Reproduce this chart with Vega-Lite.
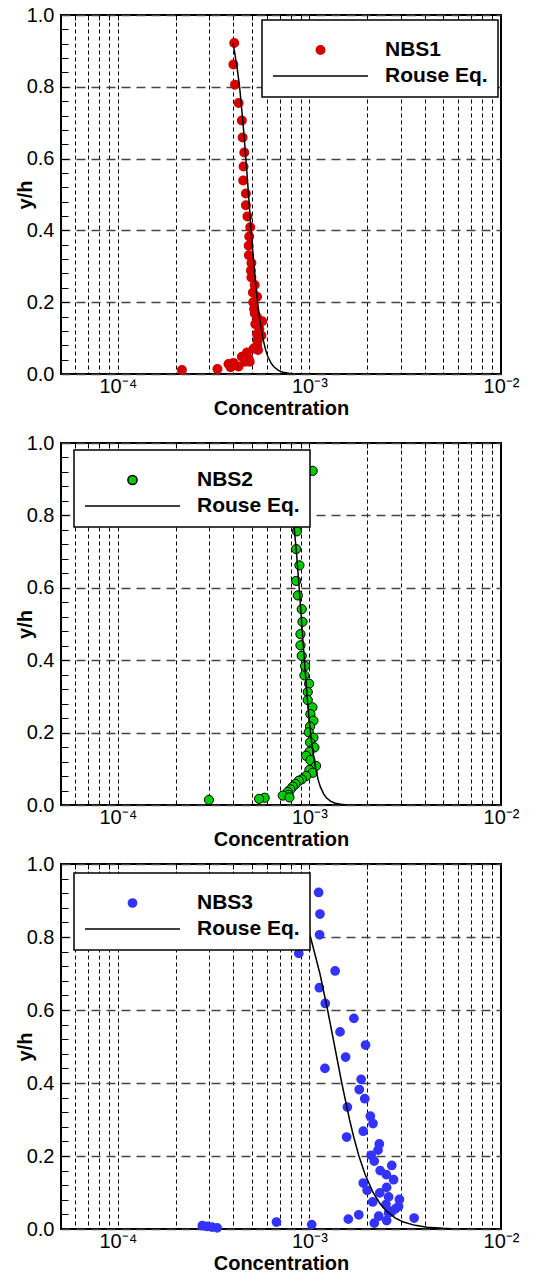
{
  "$schema": "https://vega.github.io/schema/vega-lite/v6.json",
  "padding": {"top": 4, "left": 14, "right": 4, "bottom": 0},
  "background": "white",
  "config": {
    "font": "Liberation Sans",
    "view": {"stroke": "black", "strokeWidth": 2},
    "axis": {"labelFont": "Liberation Sans", "labelFontSize": 20, "labelColor": "black", "titleFont": "Liberation Sans", "titleFontSize": 20, "titleFontWeight": "bold", "titleColor": "black", "domain": false},
    "legend": {"labelFont": "Liberation Sans", "labelFontSize": 21, "labelFontWeight": "bold", "labelColor": "black", "fillColor": "white", "strokeColor": "black", "strokeWidth": 1.5, "padding": 10, "rowPadding": 4, "titleFontSize": 9, "titlePadding": 0, "orient": "none", "direction": "vertical", "columns": 1, "clipHeight": 22, "labelOffset": 16, "symbolStrokeWidth": 1.5}
  },
  "datasets": {
    "nbs1": [
      {"c": 4.05e-4, "yh": 0.922, "series": "NBS1"}, {"c": 4.01e-4, "yh": 0.862, "series": "NBS1"}, {"c": 4.09e-4, "yh": 0.806, "series": "NBS1"},
      {"c": 4.27e-4, "yh": 0.755, "series": "NBS1"}, {"c": 4.44e-4, "yh": 0.706, "series": "NBS1"}, {"c": 4.48e-4, "yh": 0.659, "series": "NBS1"},
      {"c": 4.57e-4, "yh": 0.617, "series": "NBS1"}, {"c": 4.53e-4, "yh": 0.578, "series": "NBS1"}, {"c": 4.51e-4, "yh": 0.539, "series": "NBS1"},
      {"c": 4.66e-4, "yh": 0.503, "series": "NBS1"}, {"c": 4.66e-4, "yh": 0.470, "series": "NBS1"}, {"c": 4.75e-4, "yh": 0.439, "series": "NBS1"},
      {"c": 4.91e-4, "yh": 0.409, "series": "NBS1"}, {"c": 4.85e-4, "yh": 0.383, "series": "NBS1"}, {"c": 4.82e-4, "yh": 0.357, "series": "NBS1"},
      {"c": 4.83e-4, "yh": 0.331, "series": "NBS1"}, {"c": 4.98e-4, "yh": 0.309, "series": "NBS1"}, {"c": 4.95e-4, "yh": 0.288, "series": "NBS1"},
      {"c": 4.98e-4, "yh": 0.269, "series": "NBS1"}, {"c": 5.18e-4, "yh": 0.248, "series": "NBS1"}, {"c": 5.07e-4, "yh": 0.227, "series": "NBS1"},
      {"c": 5.33e-4, "yh": 0.215, "series": "NBS1"}, {"c": 5.09e-4, "yh": 0.200, "series": "NBS1"}, {"c": 5.14e-4, "yh": 0.181, "series": "NBS1"},
      {"c": 5.18e-4, "yh": 0.169, "series": "NBS1"}, {"c": 5.33e-4, "yh": 0.158, "series": "NBS1"}, {"c": 5.67e-4, "yh": 0.147, "series": "NBS1"},
      {"c": 5.22e-4, "yh": 0.139, "series": "NBS1"}, {"c": 5.48e-4, "yh": 0.125, "series": "NBS1"}, {"c": 5.33e-4, "yh": 0.111, "series": "NBS1"},
      {"c": 5.62e-4, "yh": 0.107, "series": "NBS1"}, {"c": 5.37e-4, "yh": 0.093, "series": "NBS1"}, {"c": 5.33e-4, "yh": 0.079, "series": "NBS1"},
      {"c": 5.12e-4, "yh": 0.071, "series": "NBS1"}, {"c": 5.39e-4, "yh": 0.067, "series": "NBS1"}, {"c": 4.72e-4, "yh": 0.060, "series": "NBS1"},
      {"c": 4.44e-4, "yh": 0.048, "series": "NBS1"}, {"c": 4.82e-4, "yh": 0.042, "series": "NBS1"}, {"c": 4.62e-4, "yh": 0.034, "series": "NBS1"},
      {"c": 4.88e-4, "yh": 0.034, "series": "NBS1"}, {"c": 4.01e-4, "yh": 0.031, "series": "NBS1"}, {"c": 3.78e-4, "yh": 0.028, "series": "NBS1"},
      {"c": 4.27e-4, "yh": 0.021, "series": "NBS1"}, {"c": 3.88e-4, "yh": 0.019, "series": "NBS1"}, {"c": 3.31e-4, "yh": 0.014, "series": "NBS1"},
      {"c": 2.16e-4, "yh": 0.011, "series": "NBS1"}
    ],
    "rouse1": [
      {"c": 3.99e-4, "yh": 0.922}, {"c": 4.06e-4, "yh": 0.9}, {"c": 4.20e-4, "yh": 0.85},
      {"c": 4.32e-4, "yh": 0.8}, {"c": 4.50e-4, "yh": 0.7}, {"c": 4.66e-4, "yh": 0.6},
      {"c": 4.81e-4, "yh": 0.5}, {"c": 4.96e-4, "yh": 0.4}, {"c": 5.14e-4, "yh": 0.3},
      {"c": 5.24e-4, "yh": 0.25}, {"c": 5.36e-4, "yh": 0.2}, {"c": 5.51e-4, "yh": 0.15},
      {"c": 5.71e-4, "yh": 0.1}, {"c": 5.89e-4, "yh": 0.07}, {"c": 6.05e-4, "yh": 0.05},
      {"c": 6.31e-4, "yh": 0.03}, {"c": 6.52e-4, "yh": 0.02}, {"c": 6.88e-4, "yh": 0.01},
      {"c": 7.27e-4, "yh": 0.005}, {"c": 7.81e-4, "yh": 0.002}, {"c": 8.24e-4, "yh": 0.001}
    ],
    "nbs2": [
      {"c": 1.04e-3, "yh": 0.923, "series": "NBS2"}, {"c": 8.6e-4, "yh": 0.756, "series": "NBS2"}, {"c": 8.53e-4, "yh": 0.707, "series": "NBS2"},
      {"c": 8.87e-4, "yh": 0.662, "series": "NBS2"}, {"c": 8.53e-4, "yh": 0.619, "series": "NBS2"}, {"c": 8.7e-4, "yh": 0.579, "series": "NBS2"},
      {"c": 9.12e-4, "yh": 0.541, "series": "NBS2"}, {"c": 9.2e-4, "yh": 0.506, "series": "NBS2"}, {"c": 8.98e-4, "yh": 0.472, "series": "NBS2"},
      {"c": 8.98e-4, "yh": 0.441, "series": "NBS2"}, {"c": 9.12e-4, "yh": 0.412, "series": "NBS2"}, {"c": 9.49e-4, "yh": 0.384, "series": "NBS2"},
      {"c": 9.42e-4, "yh": 0.358, "series": "NBS2"}, {"c": 9.96e-4, "yh": 0.335, "series": "NBS2"}, {"c": 9.8e-4, "yh": 0.312, "series": "NBS2"},
      {"c": 9.8e-4, "yh": 0.290, "series": "NBS2"}, {"c": 1.037e-3, "yh": 0.270, "series": "NBS2"}, {"c": 1.012e-3, "yh": 0.251, "series": "NBS2"},
      {"c": 1.049e-3, "yh": 0.233, "series": "NBS2"}, {"c": 1.008e-3, "yh": 0.217, "series": "NBS2"}, {"c": 9.92e-4, "yh": 0.201, "series": "NBS2"},
      {"c": 1.049e-3, "yh": 0.186, "series": "NBS2"}, {"c": 1.008e-3, "yh": 0.173, "series": "NBS2"}, {"c": 1.062e-3, "yh": 0.159, "series": "NBS2"},
      {"c": 1.0e-3, "yh": 0.147, "series": "NBS2"}, {"c": 9.61e-4, "yh": 0.136, "series": "NBS2"}, {"c": 1.012e-3, "yh": 0.124, "series": "NBS2"},
      {"c": 1.083e-3, "yh": 0.108, "series": "NBS2"}, {"c": 1.0e-3, "yh": 0.097, "series": "NBS2"}, {"c": 1.04e-3, "yh": 0.089, "series": "NBS2"},
      {"c": 9.61e-4, "yh": 0.080, "series": "NBS2"}, {"c": 9.12e-4, "yh": 0.071, "series": "NBS2"}, {"c": 8.8e-4, "yh": 0.067, "series": "NBS2"},
      {"c": 8.46e-4, "yh": 0.058, "series": "NBS2"}, {"c": 8.19e-4, "yh": 0.051, "series": "NBS2"}, {"c": 7.96e-4, "yh": 0.043, "series": "NBS2"},
      {"c": 7.71e-4, "yh": 0.036, "series": "NBS2"}, {"c": 7.78e-4, "yh": 0.028, "series": "NBS2"}, {"c": 7.26e-4, "yh": 0.026, "series": "NBS2"},
      {"c": 7.87e-4, "yh": 0.021, "series": "NBS2"}, {"c": 5.84e-4, "yh": 0.020, "series": "NBS2"}, {"c": 5.46e-4, "yh": 0.017, "series": "NBS2"},
      {"c": 2.99e-4, "yh": 0.014, "series": "NBS2"}
    ],
    "rouse2": [
      {"c": 7.56e-4, "yh": 0.922}, {"c": 7.72e-4, "yh": 0.9}, {"c": 7.99e-4, "yh": 0.85},
      {"c": 8.21e-4, "yh": 0.8}, {"c": 8.55e-4, "yh": 0.7}, {"c": 8.84e-4, "yh": 0.6},
      {"c": 9.12e-4, "yh": 0.5}, {"c": 9.41e-4, "yh": 0.4}, {"c": 9.73e-4, "yh": 0.3},
      {"c": 9.91e-4, "yh": 0.25}, {"c": 1.013e-3, "yh": 0.2}, {"c": 1.041e-3, "yh": 0.15},
      {"c": 1.078e-3, "yh": 0.1}, {"c": 1.110e-3, "yh": 0.07}, {"c": 1.141e-3, "yh": 0.05},
      {"c": 1.188e-3, "yh": 0.03}, {"c": 1.226e-3, "yh": 0.02}, {"c": 1.293e-3, "yh": 0.01},
      {"c": 1.364e-3, "yh": 0.005}, {"c": 1.462e-3, "yh": 0.002}, {"c": 1.542e-3, "yh": 0.001}
    ],
    "nbs3": [
      {"c": 1.117e-3, "yh": 0.922, "series": "NBS3"}, {"c": 1.135e-3, "yh": 0.863, "series": "NBS3"}, {"c": 1.13e-3, "yh": 0.806, "series": "NBS3"},
      {"c": 8.8e-4, "yh": 0.755, "series": "NBS3"}, {"c": 1.362e-3, "yh": 0.707, "series": "NBS3"}, {"c": 1.127e-3, "yh": 0.661, "series": "NBS3"},
      {"c": 1.21e-3, "yh": 0.618, "series": "NBS3"}, {"c": 1.707e-3, "yh": 0.577, "series": "NBS3"}, {"c": 1.445e-3, "yh": 0.540, "series": "NBS3"},
      {"c": 1.963e-3, "yh": 0.504, "series": "NBS3"}, {"c": 1.545e-3, "yh": 0.471, "series": "NBS3"}, {"c": 1.205e-3, "yh": 0.440, "series": "NBS3"},
      {"c": 1.862e-3, "yh": 0.410, "series": "NBS3"}, {"c": 1.82e-3, "yh": 0.382, "series": "NBS3"}, {"c": 1.945e-3, "yh": 0.357, "series": "NBS3"},
      {"c": 1.578e-3, "yh": 0.334, "series": "NBS3"}, {"c": 2.08e-3, "yh": 0.309, "series": "NBS3"}, {"c": 2.147e-3, "yh": 0.289, "series": "NBS3"},
      {"c": 1.91e-3, "yh": 0.268, "series": "NBS3"}, {"c": 1.564e-3, "yh": 0.252, "series": "NBS3"}, {"c": 2.317e-3, "yh": 0.233, "series": "NBS3"},
      {"c": 2.28e-3, "yh": 0.216, "series": "NBS3"}, {"c": 2.10e-3, "yh": 0.202, "series": "NBS3"}, {"c": 2.18e-3, "yh": 0.186, "series": "NBS3"},
      {"c": 2.69e-3, "yh": 0.174, "series": "NBS3"}, {"c": 2.34e-3, "yh": 0.160, "series": "NBS3"}, {"c": 2.52e-3, "yh": 0.149, "series": "NBS3"},
      {"c": 2.75e-3, "yh": 0.135, "series": "NBS3"}, {"c": 1.91e-3, "yh": 0.126, "series": "NBS3"}, {"c": 2.53e-3, "yh": 0.114, "series": "NBS3"},
      {"c": 2.0e-3, "yh": 0.106, "series": "NBS3"}, {"c": 2.33e-3, "yh": 0.099, "series": "NBS3"}, {"c": 2.59e-3, "yh": 0.088, "series": "NBS3"},
      {"c": 2.95e-3, "yh": 0.081, "series": "NBS3"}, {"c": 2.14e-3, "yh": 0.074, "series": "NBS3"}, {"c": 2.51e-3, "yh": 0.067, "series": "NBS3"},
      {"c": 2.92e-3, "yh": 0.062, "series": "NBS3"}, {"c": 2.81e-3, "yh": 0.055, "series": "NBS3"}, {"c": 2.69e-3, "yh": 0.048, "series": "NBS3"},
      {"c": 2.59e-3, "yh": 0.044, "series": "NBS3"}, {"c": 2.30e-3, "yh": 0.035, "series": "NBS3"}, {"c": 3.52e-3, "yh": 0.030, "series": "NBS3"},
      {"c": 1.596e-3, "yh": 0.027, "series": "NBS3"}, {"c": 1.81e-3, "yh": 0.039, "series": "NBS3"}, {"c": 2.53e-3, "yh": 0.023, "series": "NBS3"},
      {"c": 2.18e-3, "yh": 0.016, "series": "NBS3"}, {"c": 6.73e-4, "yh": 0.019, "series": "NBS3"}, {"c": 1.028e-3, "yh": 0.012, "series": "NBS3"},
      {"c": 2.76e-4, "yh": 0.009, "series": "NBS3"}, {"c": 2.92e-4, "yh": 0.007, "series": "NBS3"}, {"c": 3.10e-4, "yh": 0.005, "series": "NBS3"},
      {"c": 3.30e-4, "yh": 0.003, "series": "NBS3"}
    ],
    "rouse3": [
      {"c": 8.07e-4, "yh": 0.922}, {"c": 8.54e-4, "yh": 0.9}, {"c": 9.41e-4, "yh": 0.85},
      {"c": 1.013e-3, "yh": 0.8}, {"c": 1.134e-3, "yh": 0.7}, {"c": 1.244e-3, "yh": 0.6},
      {"c": 1.355e-3, "yh": 0.5}, {"c": 1.475e-3, "yh": 0.4}, {"c": 1.619e-3, "yh": 0.3},
      {"c": 1.707e-3, "yh": 0.25}, {"c": 1.813e-3, "yh": 0.2}, {"c": 1.951e-3, "yh": 0.15},
      {"c": 2.149e-3, "yh": 0.1}, {"c": 2.333e-3, "yh": 0.07}, {"c": 2.514e-3, "yh": 0.05},
      {"c": 2.812e-3, "yh": 0.03}, {"c": 3.068e-3, "yh": 0.02}, {"c": 3.556e-3, "yh": 0.01},
      {"c": 4.118e-3, "yh": 0.005}, {"c": 4.995e-3, "yh": 0.002}, {"c": 5.5e-3, "yh": 0.001}
    ]
  },
  "vconcat": [
    {
      "width": 440, "height": 359,
      "layer": [
        {
          "data": {"name": "nbs1"},
          "mark": {"type": "point", "filled": true, "opacity": 1, "strokeWidth": 1.5},
          "encoding": {
            "x": {"field": "c", "type": "quantitative", "scale": {"type": "log", "domain": [5.05e-5, 0.01], "nice": false},
              "axis": {"orient": "bottom", "values": [6e-5, 7e-5, 8e-5, 9e-5, 1e-4, 2e-4, 3e-4, 4e-4, 5e-4, 6e-4, 7e-4, 8e-4, 9e-4, 0.001, 0.002, 0.003, 0.004, 0.005, 0.006, 0.007, 0.008, 0.009, 0.01],
                "labelExpr": "datum.value === 0.0001 ? '10⁻⁴' : datum.value === 0.001 ? '10⁻³' : datum.value === 0.01 ? '10⁻²' : ''",
                "grid": true, "gridDash": [4, 3], "gridColor": "black", "gridWidth": 1, "ticks": false, "labelPadding": 2, "labelFlush": false, "labelOverlap": false, "labelBound": false,
                "title": "Concentration", "titlePadding": 2}},
            "y": {"field": "yh", "type": "quantitative", "scale": {"domain": [0, 1], "nice": false},
              "axis": {"orient": "left", "values": [0, 0.2, 0.4, 0.6, 0.8, 1], "format": ".1f", "grid": true, "gridDash": [9, 6], "gridColor": "#444", "gridWidth": 1.5, "ticks": false, "labelPadding": 7, "title": "y/h", "titlePadding": -9}},
            "color": {"field": "series", "type": "nominal", "scale": {"domain": ["NBS1", "Rouse Eq."], "range": ["#d40000", "black"]},
              "legend": {"title": " ", "legendX": 201, "legendY": 5}},
            "stroke": {"field": "series", "type": "nominal", "scale": {"domain": ["NBS1", "Rouse Eq."], "range": ["#d40000", "black"]}},
            "shape": {"field": "series", "type": "nominal", "scale": {"domain": ["NBS1", "Rouse Eq."], "range": ["circle", "stroke"]}},
            "size": {"field": "series", "type": "nominal", "scale": {"domain": ["NBS1", "Rouse Eq."], "range": [72, 9025]}}
          }
        },
        {
          "data": {"name": "rouse1"},
          "mark": {"type": "line", "strokeWidth": 1.5, "color": "black"},
          "encoding": {
            "x": {"field": "c", "type": "quantitative", "axis": {"orient": "top", "values": [6e-5, 7e-5, 8e-5, 9e-5, 1e-4, 2e-4, 3e-4, 4e-4, 5e-4, 6e-4, 7e-4, 8e-4, 9e-4, 0.001, 0.002, 0.003, 0.004, 0.005, 0.006, 0.007, 0.008, 0.009, 0.01], "labels": false, "grid": false, "tickSize": -5, "tickColor": "black", "title": null}},
            "y": {"field": "yh", "type": "quantitative", "axis": {"orient": "left", "values": [0.04, 0.08, 0.12, 0.16, 0.2, 0.24, 0.28, 0.32, 0.36, 0.4, 0.44, 0.48, 0.52, 0.56, 0.6, 0.64, 0.68, 0.72, 0.76, 0.8, 0.84, 0.88, 0.92, 0.96], "labels": false, "grid": false, "tickSize": -7, "tickColor": "black", "title": null}}
          }
        }
      ],
      "resolve": {"axis": {"x": "independent", "y": "independent"}}
    },
    {
      "vconcat": [
        {
          "width": 440, "height": 362,
          "layer": [
            {
              "data": {"name": "nbs2"},
              "mark": {"type": "point", "filled": true, "opacity": 1, "strokeWidth": 1},
              "encoding": {
                "x": {"field": "c", "type": "quantitative", "scale": {"type": "log", "domain": [5.05e-5, 0.01], "nice": false},
                  "axis": {"orient": "bottom", "values": [6e-5, 7e-5, 8e-5, 9e-5, 1e-4, 2e-4, 3e-4, 4e-4, 5e-4, 6e-4, 7e-4, 8e-4, 9e-4, 0.001, 0.002, 0.003, 0.004, 0.005, 0.006, 0.007, 0.008, 0.009, 0.01],
                    "labelExpr": "datum.value === 0.0001 ? '10⁻⁴' : datum.value === 0.001 ? '10⁻³' : datum.value === 0.01 ? '10⁻²' : ''",
                    "grid": true, "gridDash": [4, 3], "gridColor": "black", "gridWidth": 1, "ticks": false, "labelPadding": 2, "labelFlush": false, "labelOverlap": false, "labelBound": false,
                    "title": "Concentration", "titlePadding": 2}},
                "y": {"field": "yh", "type": "quantitative", "scale": {"domain": [0, 1], "nice": false},
                  "axis": {"orient": "left", "values": [0, 0.2, 0.4, 0.6, 0.8, 1], "format": ".1f", "grid": true, "gridDash": [9, 6], "gridColor": "#444", "gridWidth": 1.5, "ticks": false, "labelPadding": 7, "title": "y/h", "titlePadding": -9}},
                "color": {"field": "series", "type": "nominal", "scale": {"domain": ["NBS2", "Rouse Eq."], "range": ["#00cc00", "black"]},
                  "legend": {"title": " ", "legendX": 13, "legendY": 7}},
                "stroke": {"field": "series", "type": "nominal", "scale": {"domain": ["NBS2", "Rouse Eq."], "range": ["black", "black"]}},
                "shape": {"field": "series", "type": "nominal", "scale": {"domain": ["NBS2", "Rouse Eq."], "range": ["circle", "stroke"]}},
                "size": {"field": "series", "type": "nominal", "scale": {"domain": ["NBS2", "Rouse Eq."], "range": [85, 9025]}}
              }
            },
            {
              "data": {"name": "rouse2"},
              "mark": {"type": "line", "strokeWidth": 1.5, "color": "black"},
              "encoding": {
                "x": {"field": "c", "type": "quantitative", "axis": {"orient": "top", "values": [6e-5, 7e-5, 8e-5, 9e-5, 1e-4, 2e-4, 3e-4, 4e-4, 5e-4, 6e-4, 7e-4, 8e-4, 9e-4, 0.001, 0.002, 0.003, 0.004, 0.005, 0.006, 0.007, 0.008, 0.009, 0.01], "labels": false, "grid": false, "tickSize": -5, "tickColor": "black", "title": null}},
                "y": {"field": "yh", "type": "quantitative", "axis": {"orient": "left", "values": [0.04, 0.08, 0.12, 0.16, 0.2, 0.24, 0.28, 0.32, 0.36, 0.4, 0.44, 0.48, 0.52, 0.56, 0.6, 0.64, 0.68, 0.72, 0.76, 0.8, 0.84, 0.88, 0.92, 0.96], "labels": false, "grid": false, "tickSize": -7, "tickColor": "black", "title": null}}
              }
            }
          ],
          "resolve": {"axis": {"x": "independent", "y": "independent"}}
        },
        {
          "width": 440, "height": 365,
          "layer": [
            {
              "data": {"name": "nbs3"},
              "mark": {"type": "point", "filled": true, "opacity": 1, "strokeWidth": 1.5},
              "encoding": {
                "x": {"field": "c", "type": "quantitative", "scale": {"type": "log", "domain": [5.05e-5, 0.01], "nice": false},
                  "axis": {"orient": "bottom", "values": [6e-5, 7e-5, 8e-5, 9e-5, 1e-4, 2e-4, 3e-4, 4e-4, 5e-4, 6e-4, 7e-4, 8e-4, 9e-4, 0.001, 0.002, 0.003, 0.004, 0.005, 0.006, 0.007, 0.008, 0.009, 0.01],
                    "labelExpr": "datum.value === 0.0001 ? '10⁻⁴' : datum.value === 0.001 ? '10⁻³' : datum.value === 0.01 ? '10⁻²' : ''",
                    "grid": true, "gridDash": [4, 3], "gridColor": "black", "gridWidth": 1, "ticks": false, "labelPadding": 2, "labelFlush": false, "labelOverlap": false, "labelBound": false,
                    "title": "Concentration", "titlePadding": 2}},
                "y": {"field": "yh", "type": "quantitative", "scale": {"domain": [0, 1], "nice": false},
                  "axis": {"orient": "left", "values": [0, 0.2, 0.4, 0.6, 0.8, 1], "format": ".1f", "grid": true, "gridDash": [9, 6], "gridColor": "#444", "gridWidth": 1.5, "ticks": false, "labelPadding": 7, "title": "y/h", "titlePadding": -9}},
                "color": {"field": "series", "type": "nominal", "scale": {"domain": ["NBS3", "Rouse Eq."], "range": ["#3333ff", "black"]},
                  "legend": {"title": " ", "legendX": 13, "legendY": 9}},
                "stroke": {"field": "series", "type": "nominal", "scale": {"domain": ["NBS3", "Rouse Eq."], "range": ["#3333ff", "black"]}},
                "shape": {"field": "series", "type": "nominal", "scale": {"domain": ["NBS3", "Rouse Eq."], "range": ["circle", "stroke"]}},
                "size": {"field": "series", "type": "nominal", "scale": {"domain": ["NBS3", "Rouse Eq."], "range": [68, 9025]}}
              }
            },
            {
              "data": {"name": "rouse3"},
              "mark": {"type": "line", "strokeWidth": 1.5, "color": "black"},
              "encoding": {
                "x": {"field": "c", "type": "quantitative", "axis": {"orient": "top", "values": [6e-5, 7e-5, 8e-5, 9e-5, 1e-4, 2e-4, 3e-4, 4e-4, 5e-4, 6e-4, 7e-4, 8e-4, 9e-4, 0.001, 0.002, 0.003, 0.004, 0.005, 0.006, 0.007, 0.008, 0.009, 0.01], "labels": false, "grid": false, "tickSize": -5, "tickColor": "black", "title": null}},
                "y": {"field": "yh", "type": "quantitative", "axis": {"orient": "left", "values": [0.04, 0.08, 0.12, 0.16, 0.2, 0.24, 0.28, 0.32, 0.36, 0.4, 0.44, 0.48, 0.52, 0.56, 0.6, 0.64, 0.68, 0.72, 0.76, 0.8, 0.84, 0.88, 0.92, 0.96], "labels": false, "grid": false, "tickSize": -7, "tickColor": "black", "title": null}}
              }
            }
          ],
          "resolve": {"axis": {"x": "independent", "y": "independent"}}
        }
      ],
      "spacing": 3,
      "resolve": {"scale": {"color": "independent", "stroke": "independent", "shape": "independent", "size": "independent"}, "legend": {"color": "independent", "stroke": "independent", "shape": "independent", "size": "independent"}}
    }
  ],
  "spacing": 13,
  "resolve": {"scale": {"color": "independent", "stroke": "independent", "shape": "independent", "size": "independent"}, "legend": {"color": "independent", "stroke": "independent", "shape": "independent", "size": "independent"}}
}
